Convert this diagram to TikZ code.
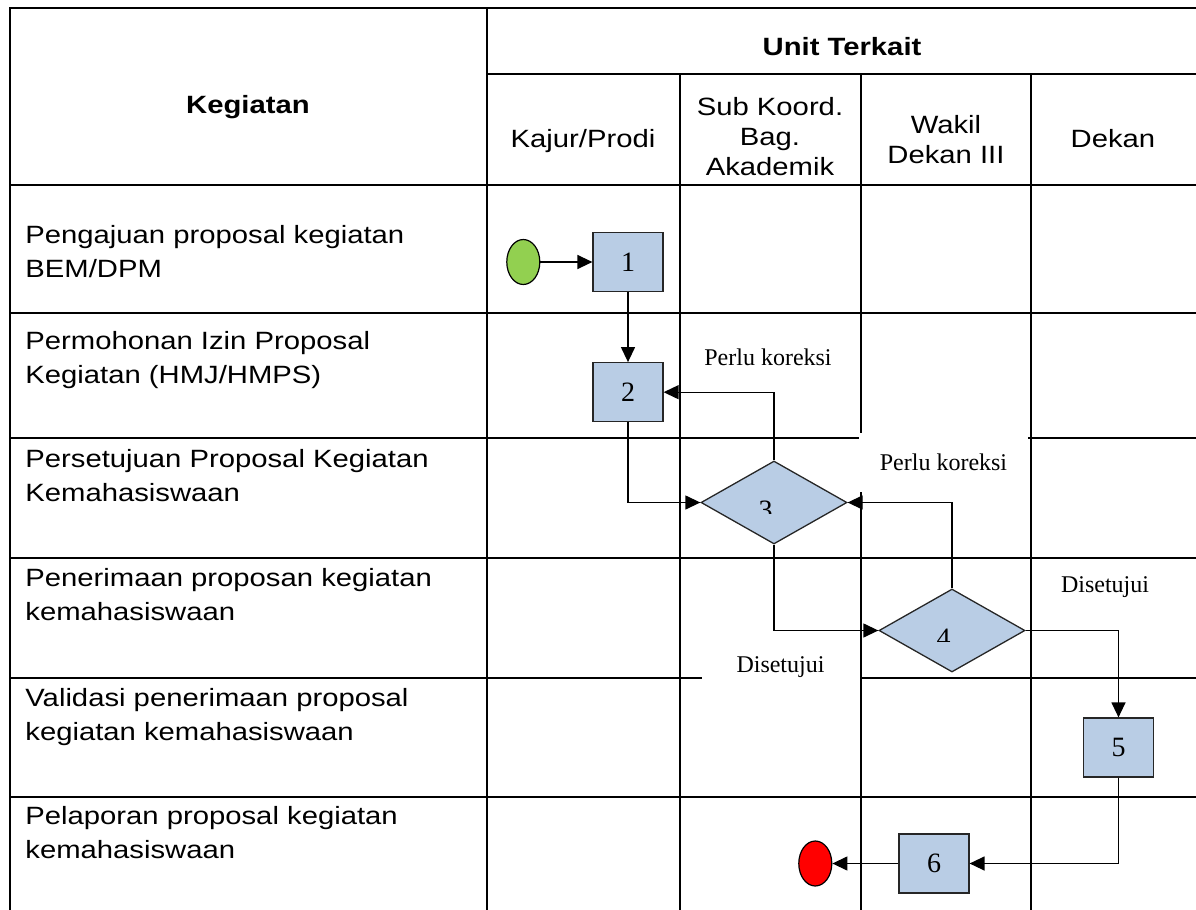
\documentclass[tikz,border=0pt]{standalone}
\usepackage{fontspec}
\setmainfont{Liberation Sans}[FakeStretch=1.17]
\newfontfamily\flowfont{Liberation Serif}
\usetikzlibrary{arrows.meta,shapes.geometric,positioning}

\definecolor{boxblue}{RGB}{185,205,229}
\definecolor{startgreen}{RGB}{146,208,80}

\begin{document}
\begin{tikzpicture}[x=0.5pt,y=-0.5pt,>={Triangle[length=7.5pt,width=7pt]},
    tableline/.style={line width=0.9pt},
    flow/.style={->,line width=0.65pt},
    elbow/.style={to path={|- (\tikztotarget)}},
    elbowx/.style={to path={-| (\tikztotarget)}},
    activity/.style={font=\fontsize{12.5}{17}\selectfont,align=left,anchor=base west,inner sep=0pt},
    head/.style={font=\fontsize{12.5}{15}\selectfont,align=center,anchor=base,inner sep=0pt},
    task/.style={draw=black!85,fill=boxblue,line width=0.6pt,minimum width=35pt,minimum height=29.5pt,
                 inner sep=0pt,font=\flowfont\fontsize{14}{16}\selectfont},
    decision/.style={diamond,draw=black!85,fill=boxblue,line width=0.65pt,minimum width=73pt,
                     minimum height=41.5pt,inner sep=0pt},
    digit/.style={anchor=north,inner sep=0pt,font=\flowfont\fontsize{14}{16}\selectfont},
    terminal/.style={ellipse,draw=black,line width=0.6pt,minimum width=16.5pt,minimum height=22.5pt,inner sep=0pt},
    note/.style={font=\flowfont\fontsize{12}{14}\selectfont,fill=white,inner sep=0pt}]

  \useasboundingbox (0,0) rectangle (1196,910);

  \draw[tableline] (1196,8) -- (10,8) -- (10,910);
  \draw[tableline] (487,8) -- (487,910);
  \draw[tableline] (487,74) -- (1196,74);
  \foreach \x in {680,861,1031} \draw[tableline] (\x,74) -- (\x,910);
  \foreach \y in {185,313,438,558,678,797} \draw[tableline] (10,\y) -- (1196,\y);

  \node[head,font=\bfseries\fontsize{12.5}{15}\selectfont] (kegiatan) at (248,113) {Kegiatan};
  \node[head,font=\bfseries\fontsize{12.5}{15}\selectfont] (unit)     at (842,55)  {Unit Terkait};
  \node[head] (kajur)    at (583,148)  {Kajur/Prodi};
  \node[head] (subkoord) at (770,175)  {Sub Koord.\\Bag.\\Akademik};
  \node[head] (wakil)    at (946,163)  {Wakil\\Dekan III};
  \node[head] (dekan)    at (1113,148) {Dekan};

  \node[activity] (act1) at (25,277) {Pengajuan proposal kegiatan\\BEM/DPM};
  \node[activity] (act2) at (25,383) {Permohonan Izin Proposal\\Kegiatan (HMJ/HMPS)};
  \node[activity] (act3) at (25,501) {Persetujuan Proposal Kegiatan\\Kemahasiswaan};
  \node[activity] (act4) at (25,620) {Penerimaan proposan kegiatan\\kemahasiswaan};
  \node[activity] (act5) at (25,740) {Validasi penerimaan proposal\\kegiatan kemahasiswaan};
  \node[activity] (act6) at (25,858) {Pelaporan proposal kegiatan\\kemahasiswaan};

  \node[note] (fix1) at (768,357) {Perlu koreksi};
  \node[note,minimum width=84.5pt,minimum height=29.5pt] (fix2) at (943.5,462.5) {Perlu koreksi};
  \node[note] (ok2) at (1105,587) {Disetujui};
  \node[note,minimum width=79pt,minimum height=22.5pt] (ok1) at (780.5,667.5) {Disetujui};

  \node[task]                        (b1)    at (628,262)      {1};
  \node[terminal,fill=startgreen,left=26pt of b1] (start) {};
  \node[task,below=35pt of b1]       (b2)                      {2};
  \node[decision]                    (d3)    at (774,502.5)    {};
  \node[decision]                    (d4)    at (952,630.5)    {};
  \node[task]                        (b5)    at (1118.5,747.5) {5};
  \node[task]                        (b6)    at (934,863.5)    {6};
  \node[terminal,fill=red,left=33pt of b6] (stop) {};

  \foreach \d/\n in {d3/3,d4/4} {
    \begin{scope}
      \clip (\d.north -| \d.west) rectangle ([yshift=-5.5pt]\d.east);
      \node[digit] (num\n) at ([xshift=-4.25pt,yshift=0.75pt]\d.center) {\n};
    \end{scope}
  }

  \path[flow] (start)    edge          (b1)
              (b1)       edge          (b2)
              (b2.south) edge [elbow]  (d3.west)
              (d3.north) edge [elbow]  (b2.east)
              (d3.south) edge [elbow]  (d4.west)
              (d4.north) edge [elbow]  (d3.east)
              (d4.east)  edge [elbowx] (b5.north)
              (b5.south) edge [elbow]  (b6.east)
              (b6)       edge          (stop);
\end{tikzpicture}
\end{document}
